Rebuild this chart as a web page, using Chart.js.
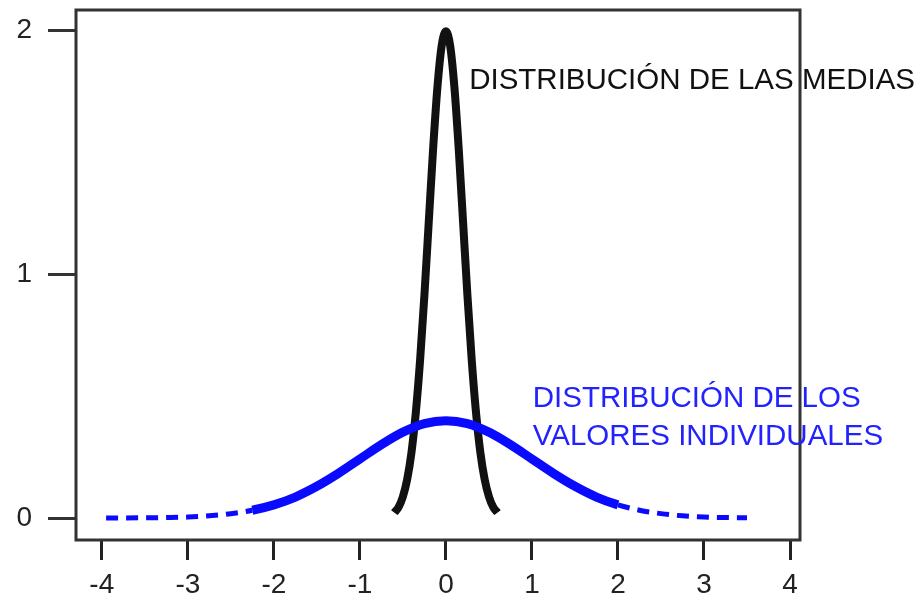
<!DOCTYPE html>
<html>
<head>
<meta charset="utf-8">
<script src="https://cdn.jsdelivr.net/npm/chart.js@4/dist/chart.umd.min.js"></script>
<style>
    html, body { margin: 0; padding: 0; background: #fff; }
    #wrap { width: 914px; height: 597px; }
</style>
</head>
<body>
<div id="wrap"><canvas id="dist-chart" width="914" height="597"></canvas></div>
<script>
// Values
const mediasX = [-0.6, -0.55, -0.5, -0.45, -0.4, -0.35, -0.3, -0.25, -0.2, -0.15, -0.1, -0.05, 0,
                 0.05, 0.1, 0.15, 0.2, 0.25, 0.3, 0.35, 0.4, 0.45, 0.5, 0.55, 0.6];
const mediasY = [0.022, 0.045, 0.088, 0.159, 0.27, 0.432, 0.648, 0.913, 1.21, 1.506, 1.76, 1.934, 1.995,
                 1.934, 1.76, 1.506, 1.21, 0.913, 0.648, 0.432, 0.27, 0.159, 0.088, 0.045, 0.022];

const valoresX = [-3.95, -3.75, -3.5, -3.25, -3, -2.75, -2.5, -2.25, -2, -1.75, -1.5, -1.25, -1, -0.75, -0.5, -0.25, 0,
                  0.25, 0.5, 0.75, 1, 1.25, 1.5, 1.75, 2, 2.25, 2.5, 2.75, 3, 3.25, 3.5];
const valoresY = [0.0002, 0.0004, 0.001, 0.002, 0.004, 0.009, 0.018, 0.032, 0.054, 0.086, 0.13, 0.183, 0.242, 0.301, 0.352, 0.387, 0.399,
                  0.387, 0.352, 0.301, 0.242, 0.183, 0.13, 0.086, 0.054, 0.032, 0.018, 0.009, 0.004, 0.002, 0.001];

const xTicks = [-4, -3, -2, -1, 0, 1, 2, 3, 4];
const yTicks = [0, 1, 2];

const labelMedias = 'DISTRIBUCIÓN DE LAS MEDIAS';
const labelValores = ['DISTRIBUCIÓN DE LOS', 'VALORES INDIVIDUALES'];

const FONT = "'Liberation Sans', Arial, sans-serif";

function toPoints(xs, ys) {
    return xs.map((x, i) => ({ x: x, y: ys[i] }));
}

// box around the plot + the two text labels
const boxAndText = {
    id: 'boxAndText',
    afterDraw(chart) {
        const ctx = chart.ctx;
        const a = chart.chartArea;
        const xs = chart.scales.x;
        const ys = chart.scales.y;
        ctx.save();
        ctx.strokeStyle = '#333';
        ctx.lineWidth = 3;
        ctx.strokeRect(a.left, a.top, a.right - a.left, a.bottom - a.top);

        ctx.font = '29.5px ' + FONT;
        ctx.textBaseline = 'alphabetic';
        ctx.textAlign = 'left';
        ctx.fillStyle = '#111';
        ctx.fillText(labelMedias, xs.getPixelForValue(0.27), ys.getPixelForValue(1.758));
        ctx.fillStyle = '#2222ff';
        ctx.fillText(labelValores[0], xs.getPixelForValue(1.01), ys.getPixelForValue(0.455));
        ctx.fillText(labelValores[1], xs.getPixelForValue(1.01), ys.getPixelForValue(0.30));
        ctx.restore();
    }
};

const tailDash = (ctx) => {
    const x = ctx.p0.parsed.x;
    return (x < -2.4 || x >= 2.0) ? [12, 8] : undefined;
};
const tailWidth = (ctx) => {
    const x = ctx.p0.parsed.x;
    return (x < -2.4 || x >= 2.0) ? 5 : undefined;
};

new Chart(document.getElementById('dist-chart').getContext('2d'), {
    type: 'scatter',
    data: {
        datasets: [{
            label: 'Valores individuales',
            data: toPoints(valoresX, valoresY),
            showLine: true,
            borderColor: '#0a0aff',
            borderWidth: 9,
            pointRadius: 0,
            cubicInterpolationMode: 'monotone',
            segment: { borderDash: tailDash, borderWidth: tailWidth }
        }, {
            label: 'Medias',
            data: toPoints(mediasX, mediasY),
            showLine: true,
            borderColor: '#111',
            borderWidth: 8,
            pointRadius: 0,
            cubicInterpolationMode: 'monotone'
        }]
    },
    options: {
        responsive: false,
        animation: false,
        layout: { padding: { top: 10, right: 114, left: 0, bottom: 0 } },
        plugins: {
            legend: { display: false },
            tooltip: { enabled: false }
        },
        scales: {
            x: {
                type: 'linear',
                min: -4.3,
                max: 4.116,
                afterBuildTicks: (s) => { s.ticks = xTicks.map(v => ({ value: v })); },
                afterFit: (s) => { s.height = 57; s.paddingLeft = 0; s.paddingRight = 0; },
                border: { display: false },
                grid: { drawOnChartArea: false, drawTicks: true, tickLength: 20, tickWidth: 3, tickColor: '#222' },
                ticks: {
                    padding: 8,
                    color: '#222',
                    font: { family: FONT, size: 28 },
                    maxRotation: 0,
                    callback: (v) => String(v)
                }
            },
            y: {
                type: 'linear',
                min: -0.09,
                max: 2.082,
                afterBuildTicks: (s) => { s.ticks = yTicks.map(v => ({ value: v })); },
                afterFit: (s) => { s.width = 76; s.paddingTop = 0; s.paddingBottom = 0; },
                border: { display: false },
                grid: { drawOnChartArea: false, drawTicks: true, tickLength: 28, tickWidth: 3, tickColor: '#333' },
                ticks: {
                    padding: 16,
                    color: '#222',
                    font: { family: FONT, size: 28 },
                    callback: (v) => String(v)
                }
            }
        }
    },
    plugins: [boxAndText]
});
</script>
</body>
</html>
